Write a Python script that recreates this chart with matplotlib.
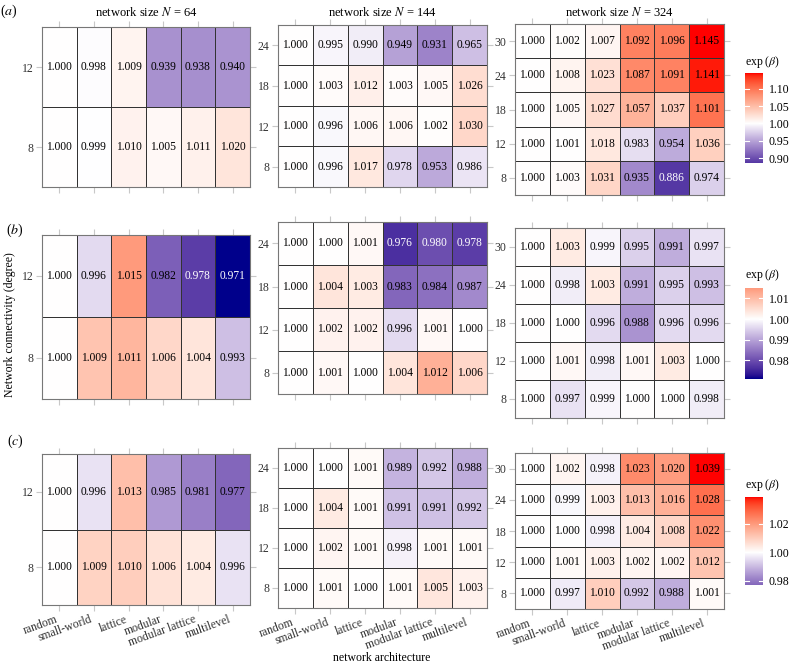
import matplotlib
matplotlib.use("Agg")
import matplotlib.pyplot as plt
from matplotlib.colors import ListedColormap, Normalize
import numpy as np

plt.rcParams["font.family"] = ["Liberation Serif", "DejaVu Serif"]
plt.rcParams["mathtext.fontset"] = "stix"

W, H = 789, 666

architectures = ["random", "small-world", "lattice", "modular", "modular lattice", "multilevel"]
degrees_64 = [12, 8]
degrees_144 = [24, 18, 12, 8]
degrees_324 = [30, 24, 18, 12, 8]
sizes = [64, 144, 324]

# rows listed top to bottom, as in the picture
a64 = [[1.000, 0.998, 1.009, 0.939, 0.938, 0.940],
       [1.000, 0.999, 1.010, 1.005, 1.011, 1.020]]
a144 = [[1.000, 0.995, 0.990, 0.949, 0.931, 0.965],
        [1.000, 1.003, 1.012, 1.003, 1.005, 1.026],
        [1.000, 0.996, 1.006, 1.006, 1.002, 1.030],
        [1.000, 0.996, 1.017, 0.978, 0.953, 0.986]]
a324 = [[1.000, 1.002, 1.007, 1.092, 1.096, 1.145],
        [1.000, 1.008, 1.023, 1.087, 1.091, 1.141],
        [1.000, 1.005, 1.027, 1.057, 1.037, 1.101],
        [1.000, 1.001, 1.018, 0.983, 0.954, 1.036],
        [1.000, 1.003, 1.031, 0.935, 0.886, 0.974]]

b64 = [[1.000, 0.996, 1.015, 0.982, 0.978, 0.971],
       [1.000, 1.009, 1.011, 1.006, 1.004, 0.993]]
b144 = [[1.000, 1.000, 1.001, 0.976, 0.980, 0.978],
        [1.000, 1.004, 1.003, 0.983, 0.984, 0.987],
        [1.000, 1.002, 1.002, 0.996, 1.001, 1.000],
        [1.000, 1.001, 1.000, 1.004, 1.012, 1.006]]
b324 = [[1.000, 1.003, 0.999, 0.995, 0.991, 0.997],
        [1.000, 0.998, 1.003, 0.991, 0.995, 0.993],
        [1.000, 1.000, 0.996, 0.988, 0.996, 0.996],
        [1.000, 1.001, 0.998, 1.001, 1.003, 1.000],
        [1.000, 0.997, 0.999, 1.000, 1.000, 0.998]]

c64 = [[1.000, 0.996, 1.013, 0.985, 0.981, 0.977],
       [1.000, 1.009, 1.010, 1.006, 1.004, 0.996]]
c144 = [[1.000, 1.000, 1.001, 0.989, 0.992, 0.988],
        [1.000, 1.004, 1.001, 0.991, 0.991, 0.992],
        [1.000, 1.002, 1.001, 0.998, 1.001, 1.001],
        [1.000, 1.001, 1.000, 1.001, 1.005, 1.003]]
c324 = [[1.000, 1.002, 0.998, 1.023, 1.020, 1.039],
        [1.000, 0.999, 1.003, 1.013, 1.016, 1.028],
        [1.000, 1.000, 0.998, 1.004, 1.008, 1.022],
        [1.000, 1.001, 1.003, 1.002, 1.002, 1.012],
        [1.000, 0.997, 1.010, 0.992, 0.988, 1.001]]

cbar_ticks = {"a": [0.90, 0.95, 1.00, 1.05, 1.10],
              "b": [0.98, 0.99, 1.00, 1.01],
              "c": [0.98, 1.00, 1.02]}


# --- ggplot-like gradient2 (Lab interpolation) ---
M = np.array([[0.4124, 0.3576, 0.1805], [0.2126, 0.7152, 0.0722], [0.0193, 0.1192, 0.9505]])
WHITE = np.array([0.95047, 1.0, 1.08883])

def to_lab(rgb):
    c = np.asarray(rgb, float)
    lin = np.where(c <= 0.04045, c / 12.92, ((c + 0.055) / 1.055) ** 2.4)
    xyz = M @ lin / WHITE
    f = np.where(xyz > 0.008856, np.cbrt(xyz), 7.787 * xyz + 16 / 116)
    return np.array([116 * f[1] - 16, 500 * (f[0] - f[1]), 200 * (f[1] - f[2])])

def from_lab(lab):
    L, a, b = lab
    fy = (L + 16) / 116; fx = fy + a / 500; fz = fy - b / 200
    f = np.array([fx, fy, fz])
    xyz = np.where(f ** 3 > 0.008856, f ** 3, (f - 16 / 116) / 7.787) * WHITE
    lin = np.linalg.solve(M, xyz)
    lin = np.clip(lin, 0, 1)
    c = np.where(lin <= 0.0031308, 12.92 * lin, 1.055 * lin ** (1 / 2.4) - 0.055)
    return np.clip(c, 0, 1)

lo, mid, hi = to_lab([0, 0, 139 / 255]), to_lab([1, 1, 1]), to_lab([1, 0, 0])
cols = []
for t in np.linspace(0, 1, 256):
    if t < 0.5:
        s = t / 0.5; lab = lo + (mid - lo) * s
    else:
        s = (t - 0.5) / 0.5; lab = mid + (hi - mid) * s
    cols.append(from_lab(lab))
cmap = ListedColormap(cols)


def box(x0, y0, x1, y1):
    return [x0 / W, 1 - y1 / H, (x1 - x0) / W, (y1 - y0) / H]

fig = plt.figure(figsize=(W / 100, H / 100), dpi=100)

rows = [
    ("a", [a64, a144, a324], [(42, 27, 250, 187), (278, 25, 487, 187), (515, 24, 724, 195)],
     (745, 73, 763, 163), 62),
    ("b", [b64, b144, b324], [(42, 235, 250, 399), (278, 222, 487, 394), (515, 228, 724, 418)],
     (745, 288, 763, 379), 275),
    ("c", [c64, c144, c324], [(42, 454, 250, 605), (278, 448, 487, 608), (515, 453, 724, 609)],
     (745, 497, 763, 585), 485),
]
degree_sets = [degrees_64, degrees_144, degrees_324]

for r, (tag, datasets, boxes, cbox, ctitle_y) in enumerate(rows):
    allv = np.concatenate([np.ravel(d) for d in datasets])
    vmin, vmax = allv.min(), allv.max()
    dev = max(1 - vmin, vmax - 1)
    norm = Normalize(1 - dev, 1 + dev)

    for p, (data, bx, degs) in enumerate(zip(datasets, boxes, degree_sets)):
        ax = fig.add_axes(box(*bx))
        z = np.array(data)[::-1]
        nr = z.shape[0]
        ax.pcolormesh(np.arange(7), np.arange(nr + 1), z, cmap=cmap, norm=norm,
                      edgecolors="#333333", linewidth=0.7)
        for i in range(nr):
            for j in range(6):
                v = z[i, j]
                tc = "white" if norm(v) < 0.17 else "black"
                ax.text(j + 0.5, i + 0.5, f"{v:.3f}", ha="center", va="center",
                        fontsize=8.3, color=tc)
        ax.set_xlim(0, 6); ax.set_ylim(0, nr)
        ax.set_xticks(np.arange(6) + 0.5)
        ax.set_yticks(np.arange(nr) + 0.5)
        ax.set_yticklabels([str(d) for d in degs[::-1]], fontsize=8.5, color="#333333")
        if tag == "c":
            ax.set_xticklabels(architectures, rotation=20, ha="right", va="top",
                               fontsize=8.5, color="#333333")
        else:
            ax.set_xticklabels([])
        ax.tick_params(top=True, right=True, direction="out", length=4,
                       color="#c8c8c8", width=0.8, pad=2)
        for s in ax.spines.values():
            s.set_color("#777777"); s.set_linewidth(0.8)
        if tag == "a":
            fig.text((bx[0] + bx[2]) / 2 / W, 1 - 12 / H, f"network size $N$ = {sizes[p]}",
                     ha="center", va="center", fontsize=9)

    # colour bar
    cax = fig.add_axes(box(*cbox))
    grad = np.linspace(vmin, vmax, 300)[:, None]
    cax.imshow(grad, origin="lower", aspect="auto", cmap=cmap, norm=norm,
               extent=[0, 1, vmin, vmax])
    cax.set_xlim(0, 1); cax.set_ylim(vmin, vmax)
    for t in cbar_ticks[tag]:
        cax.plot([0, 0.22], [t, t], color="white", lw=0.8)
        cax.plot([0.78, 1], [t, t], color="white", lw=0.8)
    cax.set_xticks([])
    cax.yaxis.tick_right()
    cax.set_yticks(cbar_ticks[tag])
    cax.set_yticklabels([f"{t:.2f}" for t in cbar_ticks[tag]], fontsize=8.5)
    cax.tick_params(axis="y", length=0, pad=4)
    for s in cax.spines.values():
        s.set_visible(False)
    fig.text(745 / W, 1 - ctitle_y / H, r"exp ($\beta$)", ha="left", va="center", fontsize=8.5)

fig.text(9 / W, 1 - 11 / H, "($a$)", ha="center", va="center", fontsize=10)
fig.text(15 / W, 1 - 230 / H, "($b$)", ha="center", va="center", fontsize=10)
fig.text(15 / W, 1 - 441 / H, "($c$)", ha="center", va="center", fontsize=10)
fig.text(10 / W, 1 - 325 / H, "Network connectivity (degree)", rotation=90,
         ha="center", va="center", fontsize=8.5)
fig.text(382 / W, 1 - 658 / H, "network architecture", ha="center", va="center", fontsize=8.5)

fig.savefig("out.png", dpi=100, facecolor="white")
